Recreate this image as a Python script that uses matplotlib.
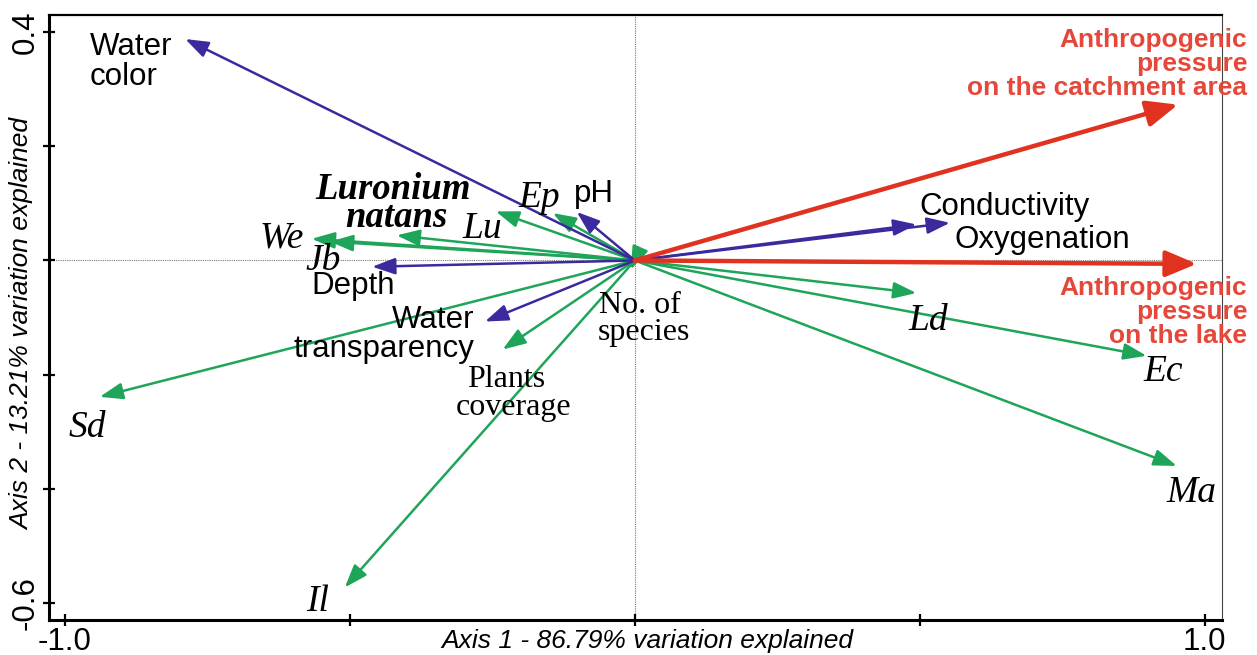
import matplotlib
matplotlib.use("Agg")
import matplotlib.pyplot as plt

# Species scores (green arrows)
species = ["We", "Jb", "Luronium natans", "Lu", "Ep", "Sd", "Il",
           "Plants coverage", "No. of species", "Ld", "Ec", "Ma"]
species_x = [-0.567, -0.535, -0.418, -0.244, -0.144, -0.939, -0.509,
             -0.232, -0.007, 0.494, 0.898, 0.951]
species_y = [0.038, 0.033, 0.044, 0.086, 0.083, -0.239, -0.573,
             -0.156, -0.016, -0.057, -0.167, -0.360]

# Environmental variables (blue arrows)
env_vars = ["Water color", "pH", "Depth", "Water transparency",
            "Conductivity", "Oxygenation"]
env_x = [-0.789, -0.102, -0.461, -0.263, 0.494, 0.553]
env_y = [0.388, 0.085, -0.011, -0.107, 0.063, 0.066]

# Anthropogenic pressure (red arrows)
pressures = ["catchment", "lake"]
pressure_x = [0.953, 0.986]
pressure_y = [0.273, -0.006]

x_ticks = [-1.0, -0.5, 0.0, 0.5, 1.0]
x_ticklabels = ["-1.0", "", "", "", "1.0"]
y_ticks = [-0.6, -0.4, -0.2, 0.0, 0.2, 0.4]
y_ticklabels = ["-0.6", "", "", "", "", "0.4"]

GREEN = "#1ea55a"
BLUE = "#3b2a9e"
RED = "#e0321e"
RED_TEXT = "#e5483a"
SANS = "Liberation Sans"
SERIF = "Liberation Serif"

fig = plt.figure(figsize=(12.57, 6.55), dpi=100)
ax = fig.add_axes([0.039, 0.0534, 0.933, 0.9236])
ax.set_xlim(-1.028, 1.030)
ax.set_ylim(-0.630, 0.430)

# reference lines through the origin
ax.axhline(0, color="#777777", lw=0.8, ls=(0, (1, 1)), zorder=1)
ax.axvline(0, color="#777777", lw=0.8, ls=(0, (1, 1)), zorder=1)


def arrow(x, y, color, lw, hl, hw, z):
    ax.annotate("", xy=(x, y), xytext=(0, 0),
                arrowprops=dict(arrowstyle=f"-|>,head_length={hl},head_width={hw}",
                                color=color, lw=lw, shrinkA=0, shrinkB=0,
                                mutation_scale=1),
                zorder=z)


for x, y in zip(species_x, species_y):
    arrow(x, y, GREEN, 1.8, 14, 5, 3)
for x, y in zip(env_x, env_y):
    arrow(x, y, BLUE, 1.8, 14, 5, 4)
for x, y in zip(pressure_x, pressure_y):
    arrow(x, y, RED, 3.2, 19, 8, 5)


def label(x, y, s, family, size, ha="center", style="normal", weight="normal",
          color="black"):
    ax.text(x, y, s, family=family, fontsize=size, ha=ha, va="baseline",
            style=style, weight=weight, color=color, zorder=6)


# species labels (serif italic)
for s, x, y in [("We", -0.619, 0.022), ("Jb", -0.547, -0.016),
                ("Lu", -0.267, 0.040), ("Ep", -0.168, 0.094),
                ("Sd", -0.960, -0.309), ("Il", -0.556, -0.615),
                ("Ld", 0.514, -0.121), ("Ec", 0.928, -0.212),
                ("Ma", 0.977, -0.423)]:
    label(x, y, s, SERIF, 27, style="italic")

label(-0.425, 0.108, "Luronium", SERIF, 26.5, style="italic", weight="bold")
label(-0.418, 0.059, "natans", SERIF, 26.5, style="italic", weight="bold")

label(-0.225, -0.221, "Plants", SERIF, 23)
label(-0.212, -0.270, "coverage", SERIF, 23)
label(0.009, -0.092, "No. of", SERIF, 23)
label(0.016, -0.139, "species", SERIF, 23)

# environmental labels (sans)
label(-0.956, 0.360, "Water", SANS, 22.5, ha="left")
label(-0.956, 0.308, "color", SANS, 22.5, ha="left")
label(-0.072, 0.103, "pH", SANS, 22.5)
label(-0.567, -0.059, "Depth", SANS, 22.5, ha="left")
label(-0.281, -0.118, "Water", SANS, 22.5, ha="right")
label(-0.281, -0.169, "transparency", SANS, 22.5, ha="right")
label(0.500, 0.080, "Conductivity", SANS, 22.5, ha="left")
label(0.561, 0.022, "Oxygenation", SANS, 22.5, ha="left")

# pressure labels (red bold)
for s, y in [("Anthropogenic", 0.374), ("pressure", 0.332),
             ("on the catchment area", 0.290),
             ("Anthropogenic", -0.060), ("pressure", -0.102),
             ("on the lake", -0.145)]:
    label(1.075, y, s, SANS, 19, ha="right", weight="bold", color=RED_TEXT)

# axes styling
ax.set_xticks(x_ticks)
ax.set_xticklabels(x_ticklabels, family=SANS, fontsize=22.5)
ax.set_yticks(y_ticks)
ax.set_yticklabels(y_ticklabels, family=SANS, fontsize=22.5, rotation=90,
                   va="center")
ax.tick_params(axis="both", direction="inout", length=8, width=1.6,
               color="black")
ax.tick_params(axis="x", pad=1)
ax.tick_params(axis="y", pad=2)

for side in ["left", "bottom"]:
    ax.spines[side].set_linewidth(2.2)
ax.spines["top"].set_linewidth(1.6)
ax.spines["right"].set_linewidth(0.8)
ax.spines["right"].set_color("#444444")

ax.set_xlabel("Axis 1 - 86.79% variation explained", family=SANS,
              fontsize=19, style="italic")
ax.xaxis.set_label_coords(0.51, -0.015)
ax.xaxis.label.set_va("top")
ax.set_ylabel("Axis 2 - 13.21% variation explained", family=SANS,
              fontsize=19, style="italic")
ax.yaxis.set_label_coords(-0.0125, 0.49)

fig.savefig("out.png", dpi=100)
